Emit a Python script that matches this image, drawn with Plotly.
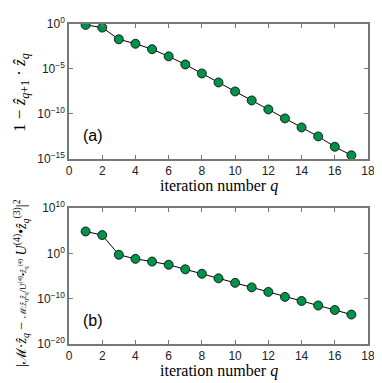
import plotly.graph_objects as go

# --- Data (log10 values) ---
q = list(range(1, 18))
err_a = [10 ** v for v in [-0.1, -0.4, -1.7, -2.2, -2.8, -3.6, -4.5, -5.5, -6.5,
                           -7.5, -8.5, -9.5, -10.5, -11.5, -12.5, -13.65, -14.6]]
err_b = [10 ** v for v in [4.85, 4.05, -0.3, -1.2, -1.8, -2.5, -3.5, -4.5, -5.5,
                           -6.5, -7.5, -8.5, -9.6, -10.5, -11.5, -12.5, -13.5]]

x_ticks = [0, 2, 4, 6, 8, 10, 12, 14, 16, 18]
a_ticks = [1, 1e-5, 1e-10, 1e-15]
a_labels = ["10<sup>0</sup>", "10<sup>−5</sup>", "10<sup>−10</sup>", "10<sup>−15</sup>"]
b_ticks = [1e10, 1, 1e-10, 1e-20]
b_labels = ["10<sup>10</sup>", "10<sup>0</sup>", "10<sup>−10</sup>", "10<sup>−20</sup>"]

GREEN = "#00924a"
FRAME = "#777777"
SANS = "Liberation Sans, Arial, sans-serif"
SERIF = "Liberation Serif"

fig = go.Figure()

for y, xa, ya in [(err_a, "x", "y"), (err_b, "x2", "y2")]:
    fig.add_trace(
        go.Scatter(
            x=q, y=y, mode="lines+markers", xaxis=xa, yaxis=ya,
            line=dict(color="black", width=1),
            marker=dict(size=9, color=GREEN, line=dict(color="black", width=0.8)),
            showlegend=False,
        )
    )

axis_common = dict(
    showline=True, linecolor=FRAME, linewidth=1.5, mirror="ticks",
    ticks="inside", ticklen=4, tickcolor=FRAME, showgrid=False, zeroline=False,
    tickfont=dict(family=SANS, size=12, color="#222"),
)

# page body adds an 8px margin, so the figure is a bit smaller than the window
fig.update_layout(
    width=374, height=375,
    margin=dict(l=61, r=7, t=11, b=39),
    plot_bgcolor="white", paper_bgcolor="white",
    xaxis=dict(domain=[0, 1], anchor="y", range=[0, 18], tickvals=x_ticks, **axis_common),
    yaxis=dict(domain=[0.5785, 1], anchor="x", type="log", range=[-15, 0],
               tickvals=a_ticks, ticktext=a_labels, **axis_common),
    xaxis2=dict(domain=[0, 1], anchor="y2", range=[0, 18], tickvals=x_ticks, **axis_common),
    yaxis2=dict(domain=[0, 0.4246], anchor="x2", type="log", range=[-20, 10],
                tickvals=b_ticks, ticktext=b_labels, **axis_common),
)

ann = []
for xr, yr, lab in [("x domain", "y domain", "(a)"), ("x2 domain", "y2 domain", "(b)")]:
    ann.append(dict(xref=xr, yref=yr, x=0.04, y=0.17, xanchor="left", yanchor="middle",
                    text=lab, showarrow=False, font=dict(family=SANS, size=16, color="black")))
    ann.append(dict(xref=xr, yref=yr, x=0.5, y=-0.2, xanchor="center", yanchor="middle",
                    text="iteration number <i>q</i>", showarrow=False,
                    font=dict(family=SERIF, size=16, color="black")))

ann.append(dict(xref="paper", yref="y domain", x=-0.16, y=0.49, xanchor="center", yanchor="middle",
                textangle=-90, showarrow=False,
                text="1 − <i>z\u0302</i><sub><i>q</i>+1</sub> · <i>z\u0302</i><sub><i>q</i></sub>",
                font=dict(family=SERIF, size=17, color="black")))
ann.append(dict(xref="paper", yref="y2 domain", x=-0.16, y=0.45, xanchor="center", yanchor="middle",
                textangle=-90, showarrow=False,
                text="|ℳ·<i>z\u0302</i><sub><i>q</i></sub> − "
                     "<span style='font-size:9px'>ℳ:<i>z\u0302</i><sub>q</sub><i>z\u0302</i><sub>q</sub>"
                     "/U<sup>(4)</sup>•<i>z\u0302</i><sub>q</sub><sup>(4)</sup></span>"
                     " <i>U</i><sup>(4)</sup>•<i>z\u0302</i><sub><i>q</i></sub><sup>(3)</sup>|<sup>2</sup>",
                font=dict(family=SERIF, size=14, color="black")))
fig.update_layout(annotations=ann)

fig.write_html("out.html")
